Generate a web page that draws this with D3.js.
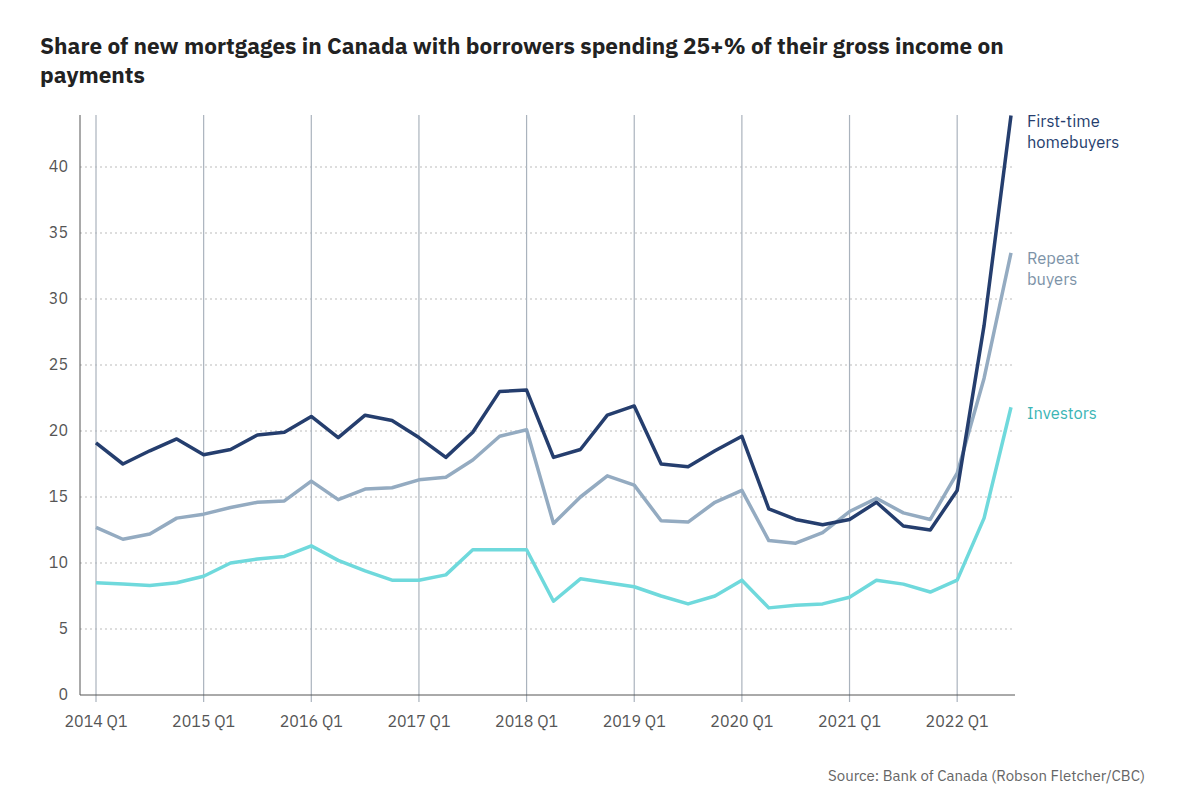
<!DOCTYPE html><html><head><meta charset="utf-8">
<script src="https://cdn.jsdelivr.net/npm/d3@7"></script>
<style>body{margin:0;background:#fff;font-family:"IBM Plex Sans","Open Sans",sans-serif}</style></head><body>
<svg id="c" width="1200" height="806"></svg>
<script>
const yearLabels=["2014 Q1","2015 Q1","2016 Q1","2017 Q1","2018 Q1","2019 Q1","2020 Q1","2021 Q1","2022 Q1"];
const firstTime=[19.1,17.5,18.5,19.4,18.2,18.6,19.7,19.9,21.1,19.5,21.2,20.8,19.5,18.0,19.9,23.0,23.1,18.0,18.6,21.2,21.9,17.5,17.3,18.5,19.6,14.1,13.3,12.9,13.3,14.6,12.8,12.5,15.5,28,43.9];
const repeat=[12.7,11.8,12.2,13.4,13.7,14.2,14.6,14.7,16.2,14.8,15.6,15.7,16.3,16.5,17.8,19.6,20.1,13.0,15.0,16.6,15.9,13.2,13.1,14.6,15.5,11.7,11.5,12.3,13.9,14.9,13.8,13.3,16.8,24,33.5];
const investors=[8.5,8.4,8.3,8.5,9.0,10.0,10.3,10.5,11.3,10.2,9.4,8.7,8.7,9.1,11.0,11.0,11.0,7.1,8.8,8.5,8.2,7.5,6.9,7.5,8.7,6.6,6.8,6.9,7.4,8.7,8.4,7.8,8.7,13.4,21.8];
const yTicks=[0,5,10,15,20,25,30,35,40];
const svg=d3.select("#c");
svg.append("text").attr("x",40).attr("y",54).attr("font-size",22.6).attr("font-weight",700).attr("fill","#222").text("Share of new mortgages in Canada with borrowers spending 25+% of their gross income on");
svg.append("text").attr("x",40).attr("y",83).attr("font-size",22.6).attr("font-weight",700).attr("fill","#222").text("payments");
const x=d3.scaleLinear().domain([0,34]).range([96,1011]);
const y=d3.scaleLinear().domain([0,40]).range([695,167]);
const g=svg.append("g");
yTicks.forEach(t=>{ if(t>0) g.append("line").attr("x1",80).attr("x2",1015).attr("y1",y(t)).attr("y2",y(t)).attr("stroke","#bbb").attr("stroke-dasharray","2,3");
 g.append("text").attr("x",68).attr("y",y(t)+5).attr("text-anchor","end").attr("font-size",16).attr("fill","#555").text(t);});
yearLabels.forEach((l,i)=>{const xx=x(i*4);
 g.append("line").attr("x1",xx).attr("x2",xx).attr("y1",115).attr("y2",702).attr("stroke","#aab3bd").attr("stroke-width",1.2);
 g.append("text").attr("x",xx).attr("y",727).attr("text-anchor","middle").attr("font-size",16).attr("fill","#555").text(l);});
g.append("line").attr("x1",80).attr("x2",80).attr("y1",115).attr("y2",695).attr("stroke","#555");
g.append("line").attr("x1",80).attr("x2",1015).attr("y1",695).attr("y2",695).attr("stroke","#555");
const line=d3.line().x((d,i)=>x(i)).y(d=>y(d));
[[investors,"#6fd9dc"],[repeat,"#94abc1"],[firstTime,"#253e6e"]].forEach(([d,c])=>
 svg.append("path").attr("d",line(d)).attr("fill","none").attr("stroke",c).attr("stroke-width",3.5).attr("stroke-linejoin","round"));
const lab=(lines,yy,c)=>lines.forEach((s,i)=>svg.append("text").attr("x",1027).attr("y",yy+i*21).attr("font-size",16.5).attr("fill",c).text(s));
lab(["First-time","homebuyers"],127,"#253e6e");
lab(["Repeat","buyers"],264,"#7d93a8");
lab(["Investors"],419,"#3bb5b5");
svg.append("text").attr("x",1145).attr("y",781).attr("text-anchor","end").attr("font-size",15).attr("fill","#666").text("Source: Bank of Canada (Robson Fletcher/CBC)");
</script></body></html>
